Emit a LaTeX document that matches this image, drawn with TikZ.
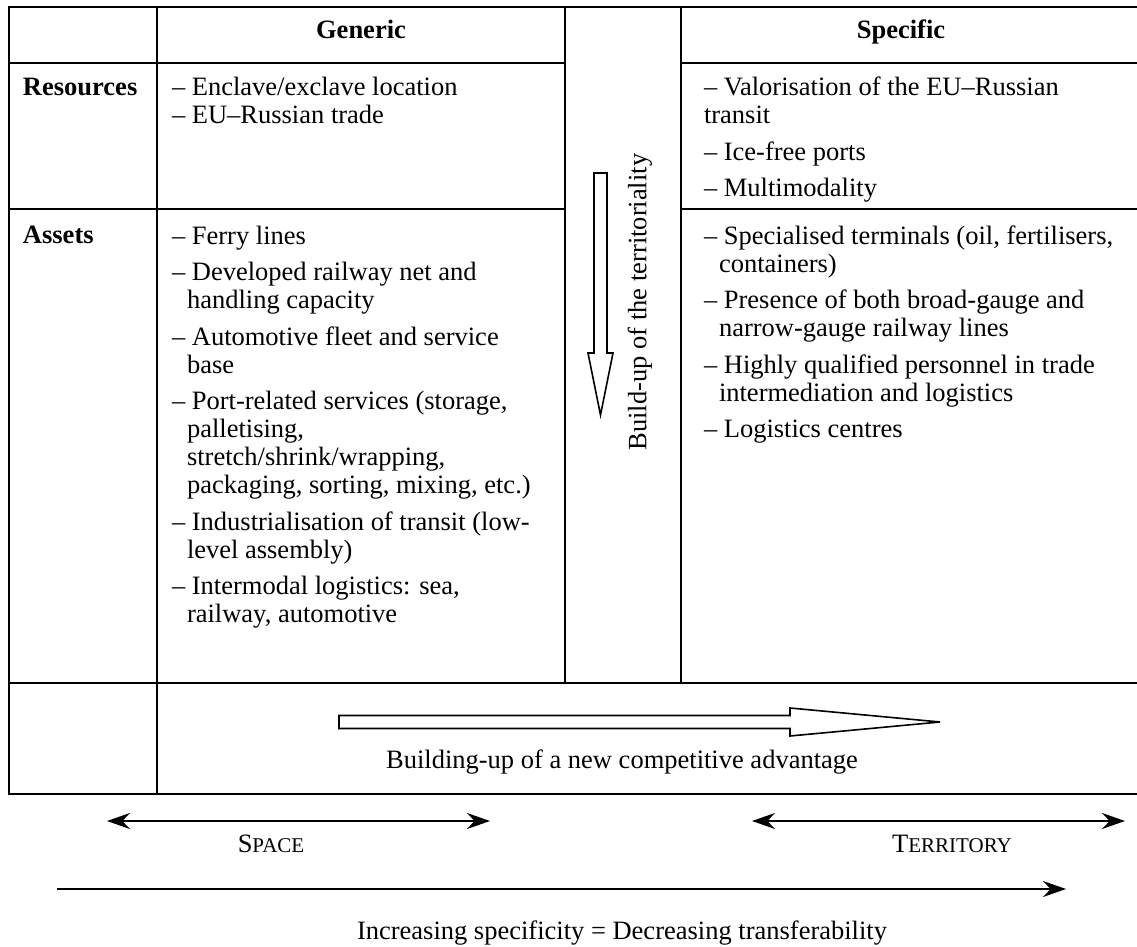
\documentclass[tikz,border=0pt]{standalone}
\usepackage{fontspec}
\setmainfont{Liberation Serif}
\usetikzlibrary{arrows.meta}
\newcommand{\mysc}[2]{{\fontsize{13.25}{14}\selectfont #1}{\fontsize{10.5}{12}\selectfont #2}}
\newcommand{\ind}{\hspace*{7.5pt}}
\begin{document}
\begin{tikzpicture}[x=0.5pt,y=-0.5pt,
  every node/.style={inner sep=0pt, outer sep=0pt, font=\fontsize{13.25}{14}\selectfont},
  grid/.style={line width=1.15pt, line cap=rect},
  cell/.style={anchor=north west, align=left},
  label/.style={anchor=base west, font=\fontsize{13.25}{14}\selectfont\bfseries},
  colhead/.style={anchor=base, font=\fontsize{13.25}{14}\selectfont\bfseries},
  blockarrow/.style={draw, line width=0.8pt, fill=white, line join=miter},
  dimarrow/.style={line width=0.8pt}
]
\fill[white] (0,0) rectangle (1137,947);
\useasboundingbox (0,0) rectangle (1137,947);

% table rules
\draw[grid] (9,7) -- (1137,7);
\draw[grid] (9,63) -- (565,63) (681,63) -- (1137,63);
\draw[grid] (9,209) -- (565,209) (681,209) -- (1137,209);
\draw[grid] (9,683) -- (1137,683);
\draw[grid] (9,794) -- (1137,794);
\draw[grid] (9,7) -- (9,794);
\draw[grid] (157,7) -- (157,794);
\draw[grid] (565,7) -- (565,683);
\draw[grid] (681,7) -- (681,683);

% headers
\node[colhead] (generic) at (361,39) {Generic};
\node[colhead] (specific) at (901,39) {Specific};
\node[label] (resources) at (23,96) {Resources};
\node[label] (assets) at (23,244) {Assets};

% resources cells (first baseline = north + 19.6px)
\node[cell] (resgen) at (172,76.4) {\strut– Enclave/exclave location\\
– EU–Russian trade};
\node[cell] (resspec) at (704,76.4) {\strut– Valorisation of the EU–Russian\\
transit\\[4.25pt]
– Ice-free ports\\[4.25pt]
– Multimodality};

% assets cells
\node[cell] (assgen) at (172,224.4) {\strut– Ferry lines\\[4.25pt]
– Developed railway net and\\
\ind handling capacity\\[4.25pt]
– Automotive fleet and service\\
\ind base\\[4.25pt]
– Port-related services (storage,\\
\ind palletising,\\
\ind stretch/shrink/wrapping,\\
\ind packaging, sorting, mixing, etc.)\\[4.25pt]
– Industrialisation of transit (low-\\
\ind level assembly)\\[4.25pt]
– Intermodal logistics: sea,\\
\ind railway, automotive};
\node[cell] (assspec) at (704,224.4) {\strut– Specialised terminals (oil, fertilisers,\\
\ind containers)\\[4.25pt]
– Presence of both broad-gauge and\\
\ind narrow-gauge railway lines\\[4.25pt]
– Highly qualified personnel in trade\\
\ind intermediation and logistics\\[4.25pt]
– Logistics centres};

% vertical block arrow and text
\draw[blockarrow] (594,173) -- (607,173) -- (607,353) -- (613,353) -- (600.5,415)
  -- (588,353) -- (594,353) -- cycle;
\node[rotate=90] (terr) at (640,302) {Build-up of the territoriality};

% horizontal block arrow and text
\draw[blockarrow] (339,715.5) -- (790,715.5) -- (790,708) -- (940,722) -- (790,736)
  -- (790,728.5) -- (339,728.5) -- cycle;
\node[anchor=base] (adv) at (622,768) {Building-up of a new competitive advantage};

% bottom arrows
\coordinate (spL) at (107,821);
\coordinate (spR) at (490,821);
\coordinate (trL) at (752,821);
\coordinate (trR) at (1125,821);
\coordinate (inL) at (57,889);
\coordinate (inR) at (1066,889);
\draw[dimarrow, {Stealth[length=11.5pt,width=8pt,inset=3.8pt]}-{Stealth[length=11.5pt,width=8pt,inset=3.8pt]}] (spL) -- (spR);
\draw[dimarrow, {Stealth[length=11.5pt,width=8pt,inset=3.8pt]}-{Stealth[length=11.5pt,width=8pt,inset=3.8pt]}] (trL) -- (trR);
\draw[dimarrow, -{Stealth[length=11.5pt,width=8pt,inset=3.8pt]}] (inL) -- (inR);
\node[anchor=base] (space) at (271,852) {\mysc{S}{PACE}};
\node[anchor=base] (territory) at (952,852) {\mysc{T}{ERRITORY}};
\node[anchor=base] (incr) at (622,939) {Increasing specificity = Decreasing transferability};
\end{tikzpicture}
\end{document}
